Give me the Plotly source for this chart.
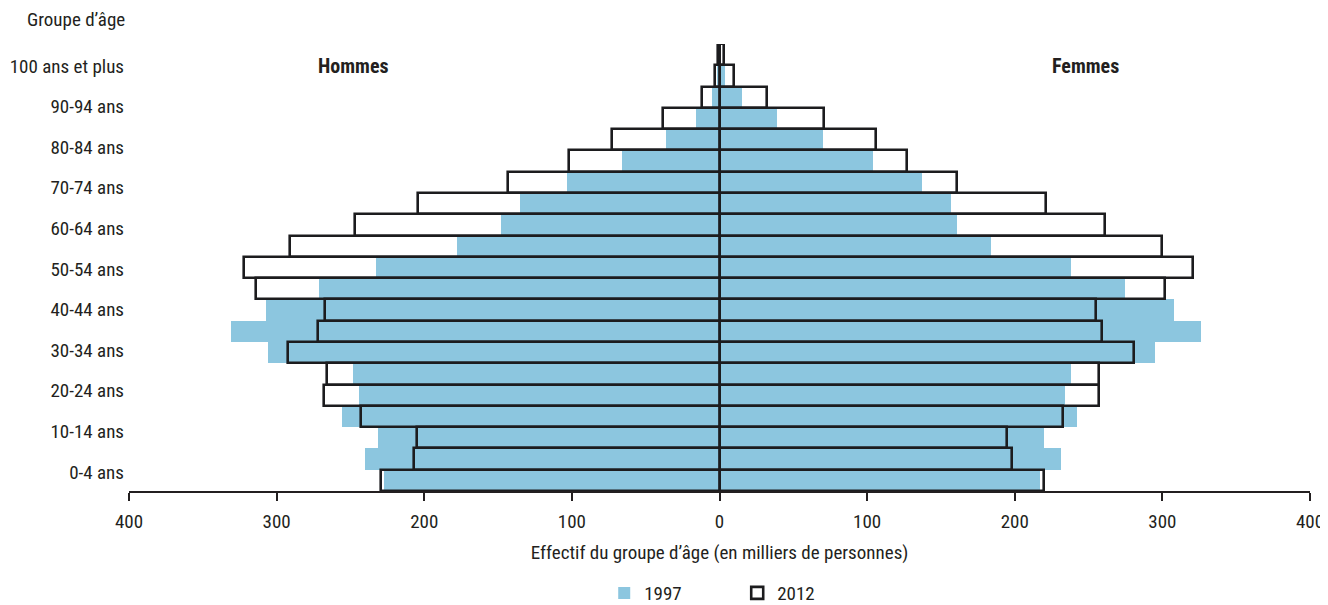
import plotly.graph_objects as go

age_groups = ["0-4 ans", "5-9 ans", "10-14 ans", "15-19 ans", "20-24 ans", "25-29 ans",
              "30-34 ans", "35-39 ans", "40-44 ans", "45-49 ans", "50-54 ans", "55-59 ans",
              "60-64 ans", "65-69 ans", "70-74 ans", "75-79 ans", "80-84 ans", "85-89 ans",
              "90-94 ans", "95-99 ans", "100 ans et plus"]

hommes_1997 = [227, 240, 231, 256, 244, 248, 306, 331, 307, 271, 233, 178, 148, 135, 103, 66, 36, 16, 5, 1.5, 0.3]
hommes_2012 = [229, 207, 205, 243, 268, 266, 292, 272, 267, 314, 322, 291, 247, 204, 143, 102, 73, 38, 12, 3, 1]
femmes_1997 = [217, 231, 220, 242, 234, 238, 295, 326, 308, 275, 238, 184, 161, 157, 137, 104, 70, 39, 15, 4, 1]
femmes_2012 = [220, 198, 195, 233, 257, 257, 281, 259, 255, 302, 321, 300, 261, 221, 161, 127, 106, 71, 32, 10, 3]

x_ticks = [-400, -300, -200, -100, 0, 100, 200, 300, 400]
x_tick_text = ["400", "300", "200", "100", "0", "100", "200", "300", "400"]

BLUE = "#8CC6DF"
DARK = "#1c1c1e"
FONT = "Liberation Sans Narrow, Roboto Condensed, DejaVu Sans Condensed, Arial Narrow, sans-serif"
FS = 19

neg = lambda arr: [-v for v in arr]

fig = go.Figure()
# 2012 white fill
fig.add_trace(go.Bar(y=age_groups, x=neg(hommes_2012), orientation="h", marker=dict(color="white", line=dict(width=0)), showlegend=False, hoverinfo="skip"))
fig.add_trace(go.Bar(y=age_groups, x=femmes_2012, orientation="h", marker=dict(color="white", line=dict(width=0)), showlegend=False, hoverinfo="skip"))
# 1997 blue
fig.add_trace(go.Bar(y=age_groups, x=neg(hommes_1997), orientation="h", name="1997", legendgroup="1997",
                     marker=dict(color=BLUE, line=dict(width=0)), showlegend=True))
fig.add_trace(go.Bar(y=age_groups, x=femmes_1997, orientation="h", name="1997", legendgroup="1997",
                     marker=dict(color=BLUE, line=dict(width=0)), showlegend=False))
# 2012 outline
fig.add_trace(go.Bar(y=age_groups, x=neg(hommes_2012), orientation="h", name="2012", legendgroup="2012",
                     marker=dict(color="rgba(255,255,255,0)", line=dict(color=DARK, width=2.6)), showlegend=True))
fig.add_trace(go.Bar(y=age_groups, x=femmes_2012, orientation="h", name="2012", legendgroup="2012",
                     marker=dict(color="rgba(255,255,255,0)", line=dict(color=DARK, width=2.6)), showlegend=False))

label_idx = list(range(0, len(age_groups), 2))
# invisible anchor trace so the label axis (yaxis2) is drawn
fig.add_trace(go.Scatter(x=[0] * len(label_idx), y=label_idx, yaxis="y2", mode="markers",
                         marker=dict(opacity=0, size=1), showlegend=False, hoverinfo="skip"))

fig.update_layout(
    width=1320, height=597,
    margin=dict(l=121, r=18, t=36, b=114, autoexpand=False),
    paper_bgcolor="white", plot_bgcolor="white",
    barmode="overlay", bargap=0,
    font=dict(family=FONT, size=FS, color="#231f20"),
    xaxis=dict(range=[-400, 400], tickvals=x_ticks, ticktext=x_tick_text, automargin=False,
               showgrid=False, zeroline=False, showline=True, linecolor="#231f20", linewidth=1.5,
               ticks="outside", ticklen=8, tickwidth=1.5, tickcolor="#231f20", ticklabelstandoff=4,
               tickfont=dict(size=FS),
               title=dict(text="Effectif du groupe d’âge (en milliers de personnes)", font=dict(size=FS), standoff=14)),
    yaxis=dict(type="category", categoryorder="array", categoryarray=age_groups, automargin=False,
               showticklabels=False, showgrid=False, zeroline=False, showline=False, ticks=""),
    yaxis2=dict(overlaying="y", side="left", range=[-0.936, 21.08], automargin=False,
                tickvals=label_idx, ticktext=[age_groups[i] for i in label_idx],
                showgrid=False, zeroline=False, showline=False, ticks="", ticklabelstandoff=4,
                tickfont=dict(size=FS)),
    legend=dict(orientation="h", x=0.515, xanchor="center", y=0.02, yanchor="middle", yref="container",
                font=dict(size=FS), itemwidth=30, traceorder="normal",
                entrywidthmode="pixels", entrywidth=88),
    showlegend=True,
    annotations=[
        dict(text="<b>Hommes</b>", x=-248, y=0.951, xref="x", yref="paper", showarrow=False,
             font=dict(size=FS + 1), xanchor="center", yanchor="middle"),
        dict(text="<b>Femmes</b>", x=248, y=0.951, xref="x", yref="paper", showarrow=False,
             font=dict(size=FS + 1), xanchor="center", yanchor="middle"),
        dict(text="Groupe d’âge", x=-0.002, y=1.054, xref="paper", yref="paper", showarrow=False,
             font=dict(size=FS), xanchor="right", yanchor="middle"),
    ],
)

fig.write_html("out.html")
